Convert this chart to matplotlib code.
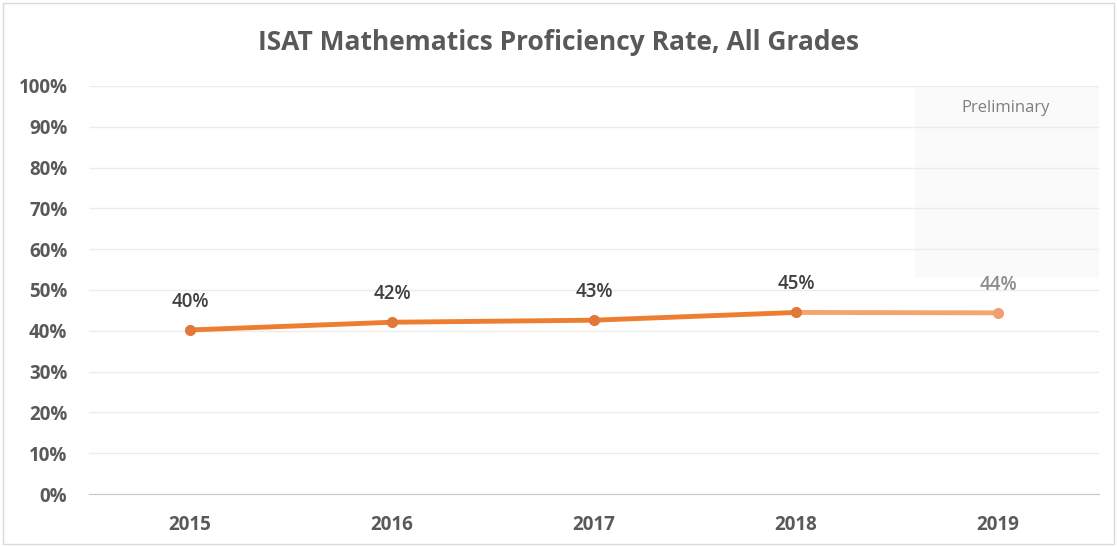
import matplotlib.pyplot as plt
from matplotlib.patches import Rectangle

years = ['2015', '2016', '2017', '2018', '2019']
rates = [40.2, 42.1, 42.6, 44.5, 44.4]
rate_labels = ['40%', '42%', '43%', '45%', '44%']
y_ticks = list(range(0, 101, 10))

plt.rcParams['font.family'] = ['Open Sans', 'DejaVu Sans']

fig = plt.figure(figsize=(11.17, 5.47), dpi=100)
ax = fig.add_axes([89 / 1117, 1 - 494 / 547, (1099 - 89) / 1117, (494 - 86) / 547])

x = list(range(len(years)))

# preliminary shading for the last year
ax.axvspan(3.59, 4.5, ymin=0.53, ymax=1.0, color='#fafafa', zorder=0, lw=0)
ax.text(4.04, 94.5, 'Preliminary', ha='center', va='center', fontsize=12, color='#7f7f7f')

ax.plot(x[:4], rates[:4], color='#ED7D31', lw=3.5, marker='o', ms=7, mfc='#E07838',
        mec='#E07838', zorder=3)
ax.plot(x[3:], rates[3:], color='#F2A66E', lw=3.5, zorder=2)
ax.plot(x[4], rates[4], color='#F0A070', marker='o', ms=7, zorder=3)

for i, (v, lab) in enumerate(zip(rates, rate_labels)):
    c = '#404040' if i < 4 else '#8c8c8c'
    ax.annotate(lab, (i, v), xytext=(0, 13), textcoords='offset points', ha='center',
                va='bottom', fontsize=13.5, fontweight='semibold', color=c)

ax.set_xlim(-0.5, 4.5)
ax.set_ylim(0, 100)
ax.set_xticks(x)
ax.set_xticklabels(years, fontsize=13.5, fontweight='bold', color='#595959')
ax.set_yticks(y_ticks)
ax.set_yticklabels([f'{t}%' for t in y_ticks], fontsize=13.5, fontweight='bold', color='#595959')
ax.tick_params(axis='x', length=0, pad=15)
ax.tick_params(axis='y', length=0, pad=15.5)

ax.grid(axis='y', color='#ececec', lw=1)
ax.set_axisbelow(True)
for s in ['top', 'right', 'left']:
    ax.spines[s].set_visible(False)
ax.spines['bottom'].set_color('#c8c8c8')

fig.text(0.5, 1 - 43 / 547, 'ISAT Mathematics Proficiency Rate, All Grades', ha='center',
         va='center', fontsize=19, fontweight='bold', color='#595959')

fig.patches.append(Rectangle((0.003, 0.005), 0.994, 0.99, transform=fig.transFigure,
                             fill=False, edgecolor='#d9d9d9', lw=1))

fig.savefig('out.png', dpi=100)
